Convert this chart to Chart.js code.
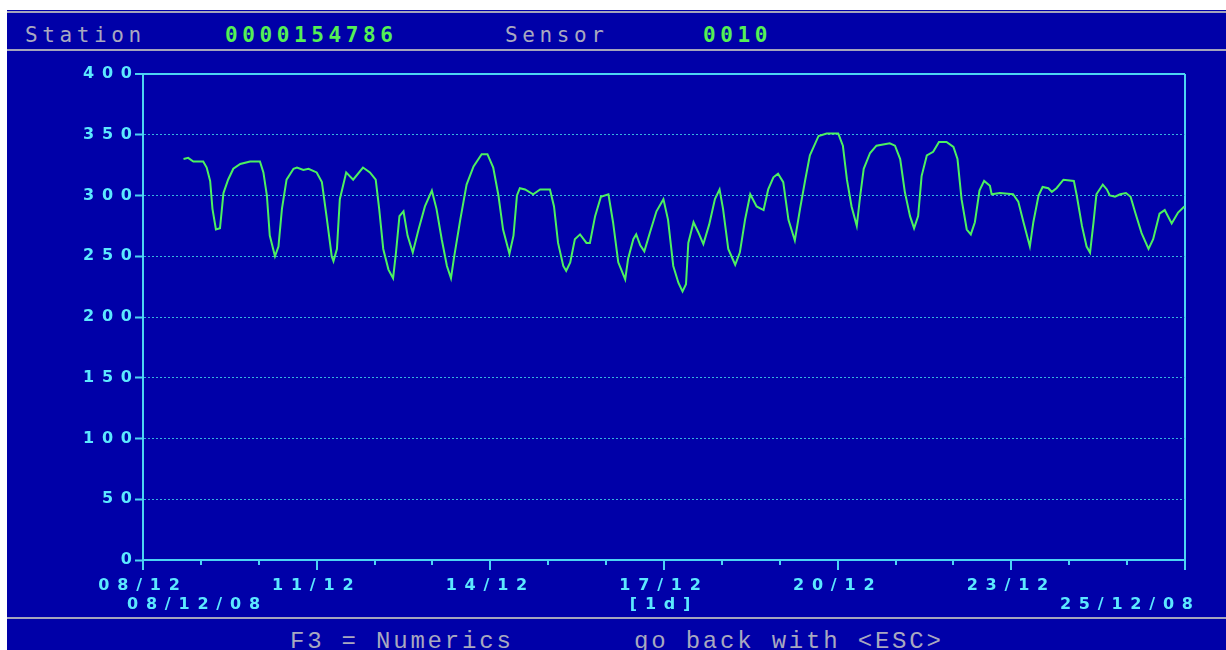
<!DOCTYPE html>
<html>
<head>
<meta charset="utf-8">
<script src="https://cdn.jsdelivr.net/npm/chart.js@4.4.1/dist/chart.umd.min.js"></script>
<style>
  html, body { margin: 0; padding: 0; background: #ffffff; }
  body { width: 1226px; height: 650px; position: relative; overflow: hidden; }
  #panel { position: absolute; left: 7px; top: 10px; width: 1219px; height: 640px; background: #0000a8; }
  .rule { position: absolute; left: 7px; width: 1219px; height: 2px; background: #a4a4bc; }
  .txt { position: absolute; font-family: "DejaVu Sans Mono", monospace; font-size: 21px; line-height: 20px; letter-spacing: 4.6px; white-space: pre; }
  .foot { position: absolute; font-family: "Liberation Mono", monospace; font-size: 24px; line-height: 24px; letter-spacing: 2.8px; white-space: pre; color: #a8a8c0; }
  .grey { color: #a8a8c0; }
  .green { color: #55f055; font-weight: bold; }
  #chart { position: absolute; left: 0; top: 0; }
</style>
</head>
<body>
<div id="panel"></div>
<div class="rule" style="top:11px"></div>
<div class="rule" style="top:49px"></div>
<div class="rule" style="top:617px"></div>

<div class="txt grey" style="left:25px;top:25px">Station</div>
<div class="txt green" style="left:225px;top:25px">0000154786</div>
<div class="txt grey" style="left:505px;top:25px">Sensor</div>
<div class="txt green" style="left:703px;top:25px">0010</div>
<div class="foot" style="left:290px;top:630px">F3 = Numerics       go back with &lt;ESC&gt;</div>

<canvas id="chart" width="1226" height="650"></canvas>

<script>
// x in days since 08/12/08, y = sensor reading
const days = [
  0.70, 0.78, 0.87, 1.04, 1.10, 1.16, 1.20, 1.26, 1.33, 1.39, 1.47, 1.56, 1.68, 1.85, 2.02,
  2.08, 2.14, 2.19, 2.28, 2.34, 2.40, 2.48, 2.60, 2.66, 2.77, 2.86, 3.00, 3.09, 3.17, 3.26,
  3.29, 3.35, 3.40, 3.51, 3.63, 3.80, 3.92, 4.02, 4.08, 4.15, 4.24, 4.32, 4.37, 4.43, 4.50,
  4.57, 4.66, 4.76, 4.87, 4.99, 5.07, 5.16, 5.25, 5.32, 5.37, 5.48, 5.59, 5.71, 5.85, 5.95,
  6.05, 6.14, 6.22, 6.33, 6.40, 6.46, 6.51, 6.60, 6.74, 6.86, 7.03, 7.10, 7.17, 7.26, 7.31,
  7.38, 7.46, 7.55, 7.66, 7.72, 7.81, 7.91, 8.04, 8.12, 8.21, 8.33, 8.38, 8.47, 8.52, 8.59,
  8.66, 8.76, 8.87, 8.99, 9.07, 9.16, 9.25, 9.32, 9.38, 9.42, 9.51, 9.59, 9.68, 9.78, 9.88,
  9.96, 10.02, 10.11, 10.23, 10.31, 10.40, 10.49, 10.60, 10.72, 10.80, 10.89, 10.97, 11.06, 11.15, 11.26,
  11.35, 11.44, 11.52, 11.67, 11.81, 12.01, 12.09, 12.16, 12.24, 12.33, 12.39, 12.45, 12.56, 12.67, 12.90,
  12.99, 13.08, 13.16, 13.25, 13.32, 13.39, 13.45, 13.54, 13.65, 13.75, 13.88, 14.00, 14.07, 14.14, 14.23,
  14.30, 14.37, 14.45, 14.53, 14.63, 14.66, 14.80, 15.03, 15.12, 15.21, 15.32, 15.38, 15.47, 15.54, 15.64,
  15.70, 15.78, 15.90, 16.08, 16.13, 16.22, 16.30, 16.36, 16.42, 16.47, 16.58, 16.65, 16.70, 16.79, 16.88,
  16.98, 17.06, 17.14, 17.25, 17.37, 17.45, 17.56, 17.65, 17.77, 17.88, 17.99
];
const values = [
  330, 331, 328, 328, 323, 312, 289, 272, 273, 302, 313, 322, 326, 328, 328,
  319, 300, 267, 250, 258, 289, 313, 322, 323, 321, 322, 319, 311, 283, 250,
  246, 256, 297, 319, 313, 323, 319, 313, 289, 256, 239, 232, 253, 283, 287,
  267, 253, 272, 291, 304, 289, 264, 242, 232, 248, 280, 309, 324, 334, 334,
  323, 300, 272, 252, 267, 300, 306, 305, 301, 305, 305, 291, 261, 242, 238,
  245, 264, 268, 261, 261, 283, 299, 301, 278, 245, 231, 248, 264, 268, 259,
  254, 270, 287, 297, 280, 242, 228, 221, 227, 261, 278, 270, 260, 276, 297,
  305, 289, 256, 243, 253, 280, 301, 291, 288, 305, 315, 318, 311, 280, 263,
  289, 313, 333, 349, 351, 351, 341, 313, 291, 275, 300, 322, 335, 341, 343,
  341, 330, 303, 283, 273, 283, 316, 333, 336, 344, 344, 340, 330, 297, 272,
  268, 278, 304, 312, 308, 301, 302, 301, 295, 278, 258, 278, 300, 307, 306,
  303, 306, 313, 312, 300, 275, 258, 253, 278, 301, 309, 305, 300, 299, 301,
  302, 299, 286, 269, 256, 264, 285, 288, 277, 286, 291
];
const xTickLabels = ["08/12", "11/12", "14/12", "17/12", "20/12", "23/12"];
const startDate = "08/12/08";
const endDate = "25/12/08";
const stepLabel = "[1d]";

const CYAN = "#4cd4f2";
const LABEL = "#5ce8ff";
const DOTS = "#36b4e0";
const LINE = "#4cf060";
const SPACING = 7.8;
const labelFont = { family: "'DejaVu Sans', sans-serif", size: 16, weight: "bold" };

// DOS-like wide text for everything drawn on the canvas, plus the two date labels
const dosText = {
    id: "dosText",
    beforeDraw(chart) {
        chart.ctx.letterSpacing = SPACING + "px";
    },
    afterDraw(chart) {
        const ctx = chart.ctx;
        const xs = chart.scales.x;
        const y = xs.bottom - 45.5;
        ctx.save();
        ctx.font = "bold 16px 'DejaVu Sans', sans-serif";
        ctx.fillStyle = LABEL;
        ctx.textBaseline = "middle";
        ctx.textAlign = "left";
        ctx.fillText(startDate, xs.getPixelForValue(0) - 16, y);
        ctx.textAlign = "right";
        ctx.fillText(endDate, xs.getPixelForValue(18) + 8 + SPACING, y);
        ctx.restore();
    }
};

new Chart(document.getElementById("chart"), {
    type: "line",
    data: {
        datasets: [{
            data: days.map((d, i) => ({ x: d, y: values[i] })),
            borderColor: LINE,
            borderWidth: 2,
            pointRadius: 0,
            tension: 0,
            fill: false
        }]
    },
    options: {
        responsive: false,
        devicePixelRatio: 1,
        animation: false,
        layout: { padding: { top: 74, right: 41, left: 0, bottom: 0 } },
        plugins: { legend: { display: false }, tooltip: { enabled: false } },
        scales: {
            x: {
                type: "linear",
                min: 0,
                max: 18,
                afterFit: (s) => { s.height = 90; },
                ticks: {
                    stepSize: 1,
                    autoSkip: false,
                    maxRotation: 0,
                    color: LABEL,
                    font: labelFont,
                    padding: 6,
                    callback: (v) => (v % 3 === 0 && v < 18 ? xTickLabels[v / 3] : "")
                },
                grid: {
                    drawOnChartArea: true,
                    color: (c) => (c.tick && c.tick.value === 18 ? CYAN : "rgba(0,0,0,0)"),
                    lineWidth: 2,
                    tickColor: CYAN,
                    tickLength: 10,
                    tickWidth: 2,
                    tickBorderDash: (c) => (c.tick && c.tick.value % 3 === 0 ? [] : [4, 40])
                },
                border: { display: true, color: CYAN, width: 2 },
                title: {
                    display: true,
                    text: stepLabel,
                    color: LABEL,
                    font: labelFont,
                    padding: { top: 0, bottom: 36 }
                }
            },
            y: {
                min: 0,
                max: 400,
                afterFit: (s) => { s.width = 143; },
                ticks: {
                    stepSize: 50,
                    color: LABEL,
                    font: labelFont,
                    padding: -4.8
                },
                grid: {
                    color: (c) => (c.tick && (c.tick.value === 400 || c.tick.value === 0) ? CYAN : DOTS),
                    lineWidth: (c) => (c.tick && c.tick.value === 400 ? 2 : 1),
                    tickColor: CYAN,
                    tickLength: 8,
                    tickWidth: 2
                },
                border: {
                    display: true,
                    color: CYAN,
                    width: 2,
                    dash: (c) => (c.tick && c.tick.value !== 400 && c.tick.value !== 0 ? [2, 2] : [])
                }
            }
        }
    },
    plugins: [dosText]
});
</script>
</body>
</html>
